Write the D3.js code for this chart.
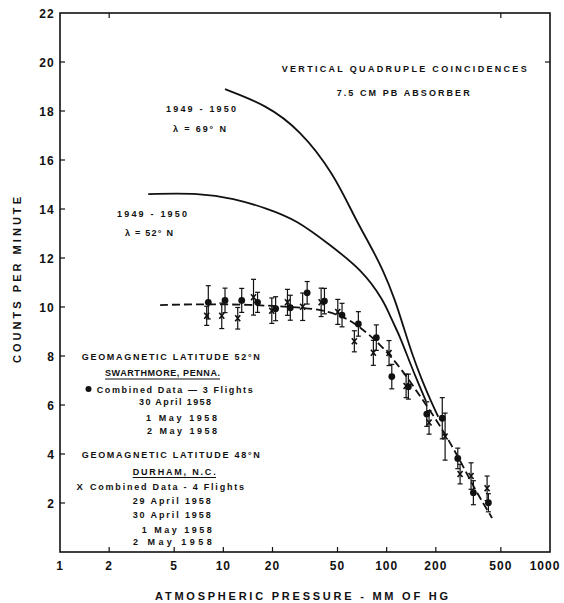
<!DOCTYPE html>
<html><head><meta charset="utf-8">
<script src="https://cdn.jsdelivr.net/npm/d3@7"></script>
<style>
body{margin:0;background:#fff;}
svg{display:block;}
text{font-family:"Liberation Sans",Arial,sans-serif;font-weight:bold;fill:#111;}
</style></head>
<body><div id="chart"></div>
<script>
// ---- data ----
const xTicks = [1,2,5,10,20,50,100,200,500,1000];
const yTicks = [2,4,6,8,10,12,14,16,18,20,22];

// Swarthmore (52°N) – dots
const dotPressure = [8.09,10.24,12.96,16.2,20.9,25.7,32.6,41.6,53.3,67.1,86.4,107.5,135.8,176,219,272.5,339.6,419.6];
const dotCounts   = [10.19,10.27,10.27,10.19,9.93,9.97,10.58,10.24,9.67,9.31,8.75,7.16,6.75,5.63,5.46,3.82,2.42,2.01];
const dotError    = [0.68,0.5,0.49,0.41,0.49,0.51,0.46,0.52,0.48,0.5,0.52,0.5,0.51,0.5,0.84,0.42,0.49,0.37];

// Durham (48°N) – crosses
const crossPressure = [7.91,9.78,12.25,15.3,19.8,24.7,30.6,39.7,50.2,63.4,82.9,103.4,131.5,181.8,227.9,281.5,328.6,412];
const crossCounts   = [9.64,9.64,9.54,10.4,9.85,10.19,10.01,10.19,9.8,8.6,8.13,8.12,6.78,5.29,4.71,3.18,3.1,2.6];
const crossError    = [0.39,0.52,0.44,0.73,0.52,0.53,0.56,0.58,0.51,0.43,0.51,0.51,0.48,0.48,0.96,0.4,0.54,0.5];

// dashed fit through 1958 data
const fitPressure = [4.1,7.2,14.6,25.6,39.1,55.6,68.7,91.1,120.8,160,212,281,348,442];
const fitCounts   = [10.08,10.12,10.1,10.0,9.92,9.59,9.18,8.49,7.55,6.37,5.18,3.76,2.53,1.39];

// 1949-1950 curves
const lat69Pressure = [10.24,18.4,29.5,47.2,64.0,79.1,95.1,112.6,126.6,142.5,164,189,207];
const lat69Counts   = [18.89,18.24,17.22,15.46,13.62,12.53,11.51,10.29,9.2,8.11,7.02,6.07,5.52];
const lat52Pressure = [3.47,7.2,11.5,18.4,28.2,45,70.7,95.5,107.5,120.8,139,156,174];
const lat52Counts   = [14.61,14.65,14.44,14.03,13.55,12.53,11.51,10.29,9.47,8.79,7.71,6.9,6.16];

// ---- chart ----
const W=564,H=603;
const svg=d3.select("#chart").append("svg").attr("width",W).attr("height",H);
const x=d3.scaleLog().domain([1,1000]).range([60,550]);
const y=d3.scaleLinear().domain([0,22]).range([552,13]);

// frame
svg.append("rect").attr("x",x(1)).attr("y",y(22)).attr("width",x(1000)-x(1)).attr("height",y(0)-y(22))
  .attr("fill","none").attr("stroke","#111").attr("stroke-width",1.6);

// ticks (inward)
svg.selectAll(".xt").data(xTicks.slice(1,-1)).enter().append("line")
  .attr("x1",d=>x(d)).attr("x2",d=>x(d)).attr("y1",y(0)).attr("y2",y(0)-5)
  .attr("stroke","#111").attr("stroke-width",1.2);
svg.selectAll(".xtt").data([2,500]).enter().append("line")
  .attr("x1",d=>x(d)).attr("x2",d=>x(d)).attr("y1",y(22)).attr("y2",y(22)+5)
  .attr("stroke","#111").attr("stroke-width",1.2);
svg.selectAll(".yt").data(yTicks.slice(0,-1)).enter().append("line")
  .attr("x1",x(1)).attr("x2",x(1)+5).attr("y1",d=>y(d)).attr("y2",d=>y(d))
  .attr("stroke","#111").attr("stroke-width",1.2);
svg.selectAll(".ytr").data([20]).enter().append("line")
  .attr("x1",x(1000)).attr("x2",x(1000)-5).attr("y1",d=>y(d)).attr("y2",d=>y(d))
  .attr("stroke","#111").attr("stroke-width",1.2);

// tick labels
svg.selectAll(".xl").data(xTicks).enter().append("text")
  .attr("x",d=>Math.min(x(d),W-19)).attr("y",570).attr("text-anchor","middle")
  .attr("font-size",12).attr("letter-spacing",1).text(d=>d);
svg.selectAll(".yl").data(yTicks).enter().append("text")
  .attr("x",55).attr("y",d=>y(d)+4.5).attr("text-anchor","end")
  .attr("font-size",12).attr("letter-spacing",1.2).text(d=>d);

// axis titles
svg.append("text").attr("x",155).attr("y",600).attr("font-size",11)
  .attr("textLength",293).attr("lengthAdjust","spacing").text("ATMOSPHERIC PRESSURE - MM OF HG");
svg.append("text").attr("transform","translate(21,363) rotate(-90)").attr("font-size",11)
  .attr("textLength",166).attr("lengthAdjust","spacing").text("COUNTS PER MINUTE");

// curves
const line=d3.line().x(d=>x(d[0])).y(d=>y(d[1])).curve(d3.curveBasis);
svg.append("path").datum(d3.zip(lat69Pressure,lat69Counts)).attr("d",line)
  .attr("fill","none").attr("stroke","#111").attr("stroke-width",1.8);
svg.append("path").datum(d3.zip(lat52Pressure,lat52Counts)).attr("d",line)
  .attr("fill","none").attr("stroke","#111").attr("stroke-width",1.8);
svg.append("path").datum(d3.zip(fitPressure,fitCounts)).attr("d",line)
  .attr("fill","none").attr("stroke","#111").attr("stroke-width",1.8).attr("stroke-dasharray","8,4");

// error bars
function errBars(P,C,E){
  const g=svg.append("g").attr("stroke","#111").attr("stroke-width",1.2);
  P.forEach((p,i)=>{
    const cx=x(p),t=y(C[i]+E[i]),b=y(C[i]-E[i]);
    g.append("line").attr("x1",cx).attr("x2",cx).attr("y1",t).attr("y2",b);
    g.append("line").attr("x1",cx-2.5).attr("x2",cx+2.5).attr("y1",t).attr("y2",t);
    g.append("line").attr("x1",cx-2.5).attr("x2",cx+2.5).attr("y1",b).attr("y2",b);
  });
}
errBars(dotPressure,dotCounts,dotError);
errBars(crossPressure,crossCounts,crossError);

svg.selectAll(".dot").data(d3.zip(dotPressure,dotCounts)).enter().append("circle")
  .attr("cx",d=>x(d[0])).attr("cy",d=>y(d[1])).attr("r",3.4).attr("fill","#111");
const cg=svg.append("g").attr("stroke","#111").attr("stroke-width",1.6);
d3.zip(crossPressure,crossCounts).forEach(d=>{
  const cx=x(d[0]),cy=y(d[1]);
  cg.append("path").attr("d",`M${cx-2.5},${cy-3}L${cx+2.5},${cy+3}M${cx+2.5},${cy-3}L${cx-2.5},${cy+3}`);
});

// annotations
function txt(s,xx,yy,len,fs){
  const t=svg.append("text").attr("x",xx).attr("y",yy).attr("font-size",fs||9).text(s);
  if(len) t.attr("textLength",len).attr("lengthAdjust","spacing");
  return t;
}
txt("VERTICAL QUADRUPLE COINCIDENCES",281.7,72,245);
txt("7.5 CM PB ABSORBER",336.7,95.5,133);
txt("1949 - 1950",166,112,70);
txt("\u03BB = 69\u00B0 N",173,132,53);
txt("1949 - 1950",117,217,70);
txt("\u03BB = 52\u00B0 N",125,236,48);

txt("GEOMAGNETIC LATITUDE 52\u00B0N",81.7,360,178);
txt("SWARTHMORE, PENNA.",105,376,115);
svg.append("line").attr("x1",105).attr("x2",220).attr("y1",379).attr("y2",379).attr("stroke","#111").attr("stroke-width",1);
svg.append("circle").attr("cx",88.5).attr("cy",389).attr("r",3).attr("fill","#111");
txt("Combined Data \u2014 3 Flights",96.7,392.5,156);
txt("30 April 1958",139,405,72);
txt("1 May 1958",146,421,71);
txt("2 May 1958",147,433.5,70);
txt("GEOMAGNETIC LATITUDE 48\u00B0N",81.7,457.5,178);
txt("DURHAM, N.C.",132.7,474.5,83);
svg.append("line").attr("x1",132.7).attr("x2",216).attr("y1",477.5).attr("y2",477.5).attr("stroke","#111").attr("stroke-width",1);
txt("X",76.5,490,null,9.5);
txt("Combined Data - 4 Flights",90,490,154);
txt("29 April 1958",132.7,503.5,78);
txt("30 April 1958",132.7,517.5,78);
txt("1 May 1958",141.7,532.5,70);
txt("2 May 1958",133,544.5,78.7);
</script></body></html>
